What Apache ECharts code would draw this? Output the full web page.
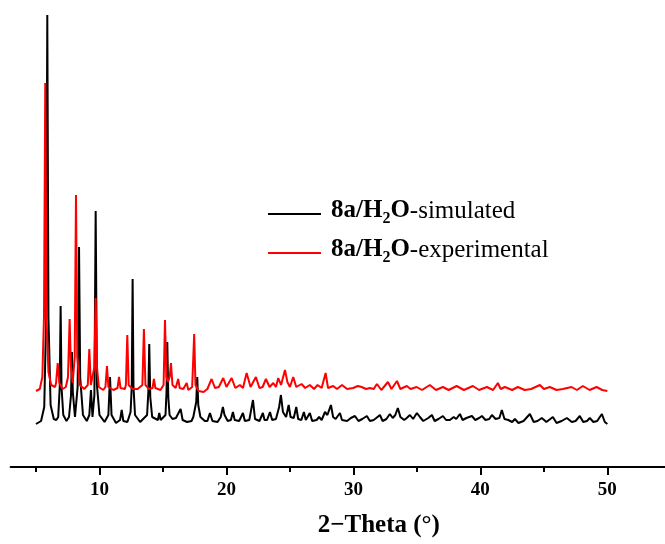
<!DOCTYPE html>
<html>
<head>
<meta charset="utf-8">
<script src="https://cdn.jsdelivr.net/npm/echarts@6/dist/echarts.min.js"></script>
<style>
html,body{margin:0;padding:0;background:#fff;overflow:hidden;width:665px;height:544px;}
#chart{width:760px;height:544px;}
</style>
</head>
<body>
<div id="chart"></div>
<script>
// ---- data (2-Theta in degrees, intensity in arbitrary units; experimental pattern offset upwards) ----
const simTheta = [5.0,5.4,5.65,5.8,5.89,5.98,6.15,6.4,6.6,6.75,6.87,6.94,7.01,7.15,7.4,7.6,7.76,7.83,7.9,8.07,8.28,8.39,8.48,8.7,9.0,9.2,9.33,9.45,9.6,9.70,9.8,10.0,10.4,10.7,10.83,10.95,11.3,11.62,11.75,11.88,12.2,12.45,12.54,12.61,12.68,12.8,13.2,13.75,13.85,13.92,14.0,14.15,14.6,14.71,14.82,15.2,15.28,15.34,15.42,15.52,15.63,15.75,16.02,16.15,16.39,16.55,16.9,17.25,17.39,17.5,17.62,17.70,17.78,17.95,18.3,18.5,18.70,18.9,19.3,19.55,19.72,19.85,20.1,20.35,20.51,20.65,21.0,21.30,21.45,21.8,22.09,22.25,22.6,22.87,23.0,23.2,23.43,23.6,23.9,24.15,24.29,24.45,24.7,24.9,25.05,25.3,25.5,25.65,25.9,26.1,26.25,26.57,26.75,27.1,27.3,27.5,27.76,27.95,28.23,28.4,28.6,28.94,29.1,29.5,29.8,30.12,30.4,30.7,31.06,31.3,31.6,31.8,32.09,32.3,32.6,32.87,33.1,33.3,33.5,33.7,34.0,34.2,34.45,34.7,35.0,35.24,35.5,35.9,36.18,36.4,36.7,37.05,37.3,37.6,37.9,38.1,38.39,38.6,38.9,39.33,39.6,39.9,40.12,40.4,40.7,40.91,41.2,41.5,41.69,41.9,42.2,42.5,42.72,43.0,43.4,43.9,44.2,44.5,44.84,45.2,45.71,46.0,46.4,46.81,47.2,47.5,47.83,48.1,48.4,48.62,48.9,49.2,49.57,49.8,50.0];
const simCounts = [43,46,60,150,452,150,62,48,47,50,80,161,80,52,46,50,72,115,75,50,80,220,90,52,46,52,77,50,72,256,82,52,45,52,90,52,44,47,57,46,45,55,80,188,80,52,45,52,75,123,70,50,47,54,47,52,75,125,70,52,54,48,49,47,58,47,45,46,50,50,65,90,62,50,46,46,54,46,45,50,60,52,46,47,55,47,46,54,46,47,67,48,46,54,47,47,55,47,48,60,72,55,50,62,50,49,60,48,47,55,47,54,46,47,50,47,55,52,62,50,48,54,47,46,49,51,46,48,51,46,47,49,52,46,48,53,49,52,59,50,47,49,52,48,54,50,46,49,52,46,48,51,47,47,50,48,53,47,49,51,47,49,51,47,48,52,48,49,57,48,47,45,48,44,46,53,45,46,49,45,50,44,46,49,45,46,51,45,46,49,45,46,53,45,43];

const expTheta = [5.0,5.3,5.5,5.63,5.73,5.83,5.98,6.2,6.5,6.58,6.71,6.84,7.1,7.35,7.52,7.65,7.75,7.89,8.05,8.15,8.25,8.45,8.8,9.08,9.20,9.32,9.46,9.6,9.70,9.8,9.95,10.3,10.47,10.59,10.7,11.1,11.42,11.54,11.66,12.0,12.08,12.19,12.3,12.6,13.0,13.38,13.50,13.62,13.9,14.18,14.29,14.4,14.8,15.05,15.16,15.27,15.4,15.53,15.63,15.75,16.0,16.2,16.32,16.6,16.87,17.0,17.3,17.36,17.46,17.56,17.8,18.2,18.5,18.83,19.1,19.4,19.75,20.0,20.41,20.7,21.06,21.3,21.59,21.9,22.32,22.6,22.85,23.11,23.4,23.69,23.9,24.08,24.3,24.61,24.8,25.0,25.26,25.5,25.92,26.2,26.57,26.9,27.18,27.5,27.81,28.0,28.41,28.7,29.1,29.5,29.98,30.35,30.65,31.0,31.3,31.6,31.85,32.2,32.72,33.0,33.43,33.7,34.21,34.5,34.98,35.4,36.02,36.5,37.05,37.5,38.13,38.7,39.41,39.9,40.51,41.0,41.38,41.6,41.93,42.06,42.5,42.95,43.5,44.0,44.69,45.0,45.47,46.0,46.5,47.18,47.6,48.07,48.6,49.15,49.6,50.0];
const expCounts = [76,78,90,150,384,150,95,82,80,84,104,84,78,80,90,148,100,84,110,272,110,82,78,82,118,82,84,100,169,100,80,77,80,101,80,77,79,90,79,78,82,132,82,78,78,82,138,82,78,79,88,79,77,82,147,90,85,90,104,82,79,88,79,78,84,77,80,82,133,82,76,75,78,88,79,80,89,80,89,79,82,79,94,80,90,79,80,88,80,84,80,89,82,97,85,80,90,80,83,79,82,78,82,79,94,79,81,78,82,78,79,81,80,78,79,78,83,77,85,78,86,78,81,78,80,77,82,77,80,77,81,77,81,77,80,77,84,78,80,81,77,80,77,78,82,78,80,77,78,80,77,81,77,80,77,76];

const majorTicks = [10,20,30,40,50,60];
const minorTicks = [5,15,25,35,45,55];
const seriesNames = ['8a/H2O-simulated','8a/H2O-experimental'];

function pairs(xs, ys){ return xs.map((x,i)=>[x, ys[i]]); }

const chart = echarts.init(document.getElementById('chart'), null, {renderer:'canvas'});
const FONT = 'Liberation Serif';

const legendRich = {
  b:{fontFamily:FONT, fontWeight:'bold', fontSize:25, fill:'#000', padding:[0,0,6,0]},
  s:{fontFamily:FONT, fontWeight:'bold', fontSize:16, fill:'#000', padding:[10,0,0,0]},
  n:{fontFamily:FONT, fontWeight:'normal', fontSize:25, fill:'#000', padding:[0,0,6,0]}
};

chart.setOption({
  animation:false,
  backgroundColor:'#fff',
  grid:{left:10.6, width:736.4, top:0, bottom:77, containLabel:false},
  xAxis:[{
    type:'value', min:3, max:61, position:'bottom',
    axisLine:{show:true, lineStyle:{color:'#000', width:2}},
    axisTick:{show:true, customValues:majorTicks, length:8, inside:false, lineStyle:{color:'#000', width:2}},
    axisLabel:{show:true, customValues:majorTicks, margin:14, color:'#000', fontFamily:FONT, fontWeight:'bold', fontSize:19},
    splitLine:{show:false},
    name:'2\u2212Theta (\u00B0)', nameLocation:'middle', nameGap:46,
    nameTextStyle:{color:'#000', fontFamily:FONT, fontWeight:'bold', fontSize:25}
  },{
    type:'value', min:3, max:61, position:'bottom', offset:0,
    axisLine:{show:false},
    axisTick:{show:true, customValues:minorTicks, length:5, lineStyle:{color:'#000', width:2}},
    axisLabel:{show:false},
    splitLine:{show:false}
  }],
  yAxis:{type:'value', min:0, max:467, show:false, splitLine:{show:false}},
  series:[
    {name:seriesNames[0], type:'line', xAxisIndex:0, data:pairs(simTheta, simCounts), showSymbol:false, symbol:'none',
     lineStyle:{color:'#000', width:2}, itemStyle:{color:'#000'}, z:2},
    {name:seriesNames[1], type:'line', xAxisIndex:0, data:pairs(expTheta, expCounts), showSymbol:false, symbol:'none',
     lineStyle:{color:'#ff0000', width:2}, itemStyle:{color:'#ff0000'}, z:3}
  ],
  graphic:[
    {type:'line', shape:{x1:268, y1:214, x2:321, y2:214}, style:{stroke:'#000', lineWidth:2}},
    {type:'line', shape:{x1:268, y1:253, x2:321, y2:253}, style:{stroke:'#ff0000', lineWidth:2}},
    {type:'text', x:331, y:214, style:{
      text:'{b|8a/H}{s|2}{b|O}{n|-simulated}', verticalAlign:'middle', align:'left', rich:legendRich}},
    {type:'text', x:331, y:253, style:{
      text:'{b|8a/H}{s|2}{b|O}{n|-experimental}', verticalAlign:'middle', align:'left', rich:legendRich}}
  ]
});
</script>
</body>
</html>
